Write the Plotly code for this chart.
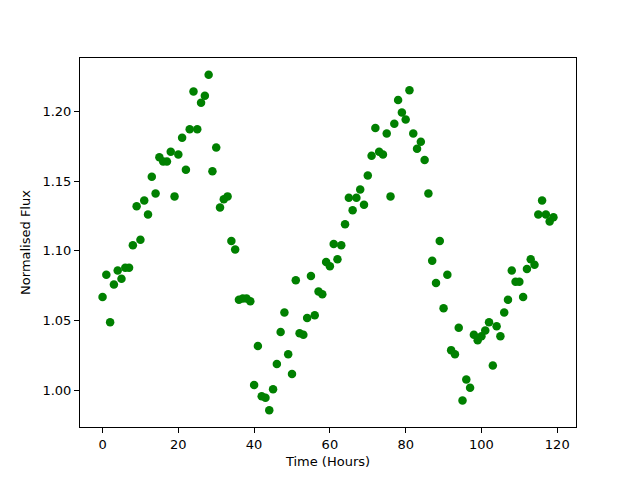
import plotly.graph_objects as go

hours = list(range(120))
flux = [
    1.067, 1.083, 1.049, 1.076, 1.086, 1.080, 1.088, 1.088, 1.104, 1.132,
    1.108, 1.136, 1.126, 1.153, 1.141, 1.167, 1.164, 1.164, 1.171, 1.139,
    1.169, 1.181, 1.158, 1.187, 1.214, 1.187, 1.206, 1.211, 1.226, 1.157,
    1.174, 1.131, 1.137, 1.139, 1.107, 1.101, 1.065, 1.066, 1.066, 1.064,
    1.004, 1.032, 0.996, 0.995, 0.986, 1.001, 1.019, 1.042, 1.056, 1.026,
    1.012, 1.079, 1.041, 1.040, 1.052, 1.082, 1.054, 1.071, 1.069, 1.092,
    1.089, 1.105, 1.094, 1.104, 1.119, 1.138, 1.129, 1.138, 1.144, 1.133,
    1.154, 1.168, 1.188, 1.171, 1.169, 1.184, 1.139, 1.191, 1.208, 1.199,
    1.194, 1.215, 1.184, 1.173, 1.178, 1.165, 1.141, 1.093, 1.077, 1.107,
    1.059, 1.083, 1.029, 1.026, 1.045, 0.993, 1.008, 1.002, 1.040, 1.036,
    1.039, 1.043, 1.049, 1.018, 1.046, 1.039, 1.056, 1.065, 1.086, 1.078,
    1.078, 1.067, 1.087, 1.094, 1.090, 1.126, 1.136, 1.126, 1.121, 1.124,
]
x_ticks = [0, 20, 40, 60, 80, 100, 120]
y_ticks = [1.00, 1.05, 1.10, 1.15, 1.20]

fig = go.Figure(go.Scatter(
    x=hours, y=flux, mode="markers",
    marker=dict(color="#008000", size=8.5, line=dict(width=0)),
))

axis_common = dict(
    showgrid=False, zeroline=False, showline=True, linecolor="black",
    linewidth=1, mirror=True, ticks="outside", ticklen=5, tickwidth=1,
    tickcolor="black", tickfont=dict(family="DejaVu Sans", size=13, color="black"),
    title_font=dict(family="DejaVu Sans", size=13, color="black"),
)
fig.update_xaxes(range=[-5.95, 124.95], tickvals=x_ticks,
                 title_text="Time (Hours)", title_standoff=6, **axis_common)
fig.update_yaxes(range=[0.974, 1.238], tickvals=y_ticks, tickformat=".2f",
                 title_text="Normalised Flux", title_standoff=8, **axis_common)
fig.update_layout(
    width=632, height=472, plot_bgcolor="white", paper_bgcolor="white",
    margin=dict(l=72, r=64, t=50, b=53, autoexpand=False), showlegend=False,
    font=dict(family="DejaVu Sans"),
)
fig.write_html("out.html")
